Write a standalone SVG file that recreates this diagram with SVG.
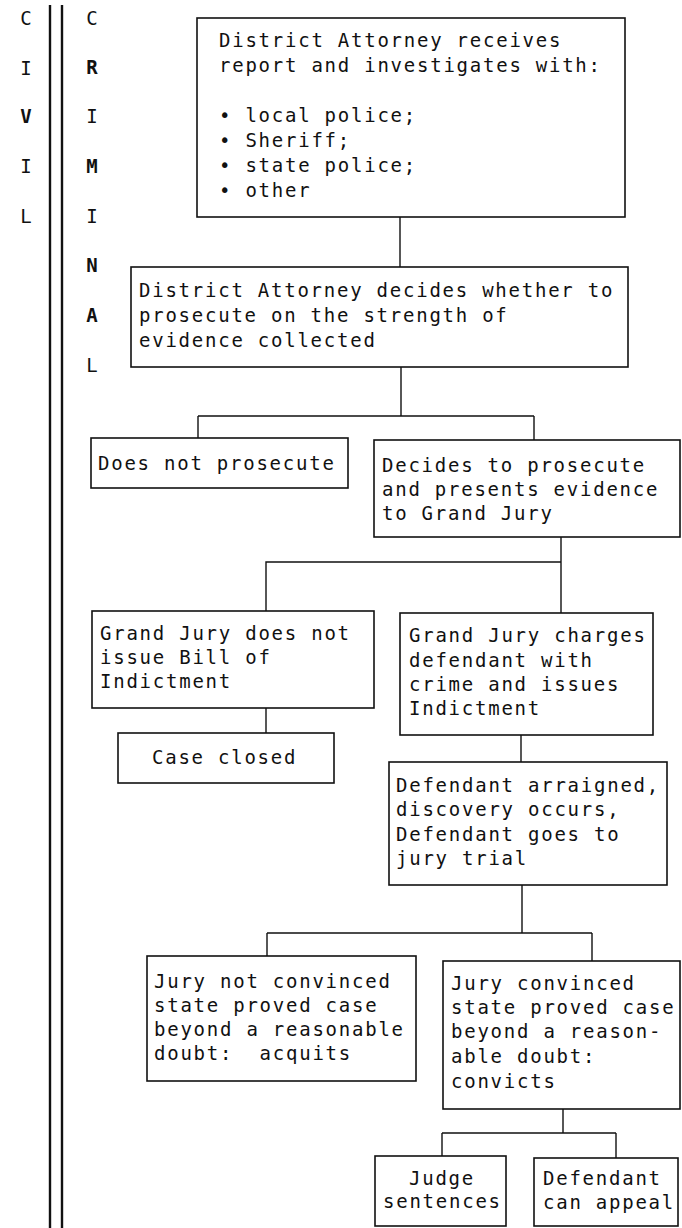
<svg xmlns="http://www.w3.org/2000/svg" width="682" height="1228" viewBox="0 0 682 1228">
<style>
.box{fill:#fff;stroke:#111;stroke-width:1.6}
.t{font-family:"DejaVu Sans Mono","Liberation Mono",monospace;font-size:19px;letter-spacing:1.76px;fill:#111;white-space:pre}
.lbl{font-family:"DejaVu Sans Mono","Liberation Mono",monospace;font-size:19px;fill:#111;text-anchor:middle}
.b{font-weight:bold}
.conn{fill:none;stroke:#111;stroke-width:1.4}
.rule{stroke:#111;stroke-width:2.4}
</style>
<rect width="682" height="1228" fill="#fff"/>
<g id="margin">
<line class="rule" x1="50" y1="5" x2="50" y2="1228"/>
<line class="rule" x1="62" y1="5" x2="62" y2="1228"/>
<text class="lbl" x="26" y="25">C</text>
<text class="lbl" x="26" y="75">I</text>
<text class="lbl b" x="26" y="123">V</text>
<text class="lbl" x="26" y="173">I</text>
<text class="lbl" x="26" y="223">L</text>
<text class="lbl" x="92" y="25">C</text>
<text class="lbl b" x="92" y="74">R</text>
<text class="lbl" x="92" y="123">I</text>
<text class="lbl b" x="92" y="173">M</text>
<text class="lbl" x="92" y="223">I</text>
<text class="lbl b" x="92" y="272">N</text>
<text class="lbl b" x="92" y="322">A</text>
<text class="lbl" x="92" y="372">L</text>
</g>
<g id="connectors">
<path class="conn" d="M400 217V267"/>
<path class="conn" d="M401 367V416M198 416H534M198 416V438M534 416V440"/>
<path class="conn" d="M561 537V562H266V611M561 562V613"/>
<path class="conn" d="M266 708V733"/>
<path class="conn" d="M521 735V762"/>
<path class="conn" d="M522 885V933M267 933H592M267 933V956M592 933V961"/>
<path class="conn" d="M563 1109V1133M442 1133H616M442 1133V1156M616 1133V1158"/>
</g>
<g id="n1">
<rect class="box" x="197" y="18" width="428" height="199"/>
<text class="t"><tspan x="219" y="47">District Attorney receives</tspan><tspan x="219" y="72">report and investigates with:</tspan><tspan x="219" y="122">• local police;</tspan><tspan x="219" y="147">• Sheriff;</tspan><tspan x="219" y="172">• state police;</tspan><tspan x="219" y="197">• other</tspan></text>
</g>
<g id="n2">
<rect class="box" x="131" y="267" width="497" height="100"/>
<text class="t"><tspan x="139" y="297">District Attorney decides whether to</tspan><tspan x="139" y="322">prosecute on the strength of</tspan><tspan x="139" y="347">evidence collected</tspan></text>
</g>
<g id="n3">
<rect class="box" x="91" y="438" width="257" height="50"/>
<text class="t" x="98" y="470">Does not prosecute</text>
</g>
<g id="n4">
<rect class="box" x="374" y="440" width="306" height="97"/>
<text class="t"><tspan x="382" y="472">Decides to prosecute</tspan><tspan x="382" y="496">and presents evidence</tspan><tspan x="382" y="520">to Grand Jury</tspan></text>
</g>
<g id="n5">
<rect class="box" x="92" y="611" width="282" height="97"/>
<text class="t"><tspan x="100" y="640">Grand Jury does not</tspan><tspan x="100" y="664">issue Bill of</tspan><tspan x="100" y="688">Indictment</tspan></text>
</g>
<g id="n6">
<rect class="box" x="400" y="613" width="253" height="122"/>
<text class="t"><tspan x="409" y="642">Grand Jury charges</tspan><tspan x="409" y="667">defendant with</tspan><tspan x="409" y="691">crime and issues</tspan><tspan x="409" y="715">Indictment</tspan></text>
</g>
<g id="n7">
<rect class="box" x="118" y="733" width="216" height="50"/>
<text class="t" x="152" y="764">Case closed</text>
</g>
<g id="n8">
<rect class="box" x="389" y="762" width="278" height="123"/>
<text class="t"><tspan x="396" y="792">Defendant arraigned,</tspan><tspan x="396" y="816">discovery occurs,</tspan><tspan x="396" y="841">Defendant goes to</tspan><tspan x="396" y="865">jury trial</tspan></text>
</g>
<g id="n9">
<rect class="box" x="147" y="956" width="269" height="125"/>
<text class="t"><tspan x="154" y="988">Jury not convinced</tspan><tspan x="154" y="1012">state proved case</tspan><tspan x="154" y="1036">beyond a reasonable</tspan><tspan x="154" y="1060">doubt:  acquits</tspan></text>
</g>
<g id="n10">
<rect class="box" x="443" y="961" width="237" height="148"/>
<text class="t"><tspan x="451" y="990">Jury convinced</tspan><tspan x="451" y="1014">state proved case</tspan><tspan x="451" y="1038">beyond a reason-</tspan><tspan x="451" y="1063">able doubt:</tspan><tspan x="451" y="1088">convicts</tspan></text>
</g>
<g id="n11">
<rect class="box" x="375" y="1156" width="131" height="70"/>
<text class="t"><tspan x="409" y="1185">Judge</tspan><tspan x="383" y="1208">sentences</tspan></text>
</g>
<g id="n12">
<rect class="box" x="534" y="1158" width="144" height="68"/>
<text class="t"><tspan x="543" y="1185">Defendant</tspan><tspan x="543" y="1209">can appeal</tspan></text>
</g>
</svg>
